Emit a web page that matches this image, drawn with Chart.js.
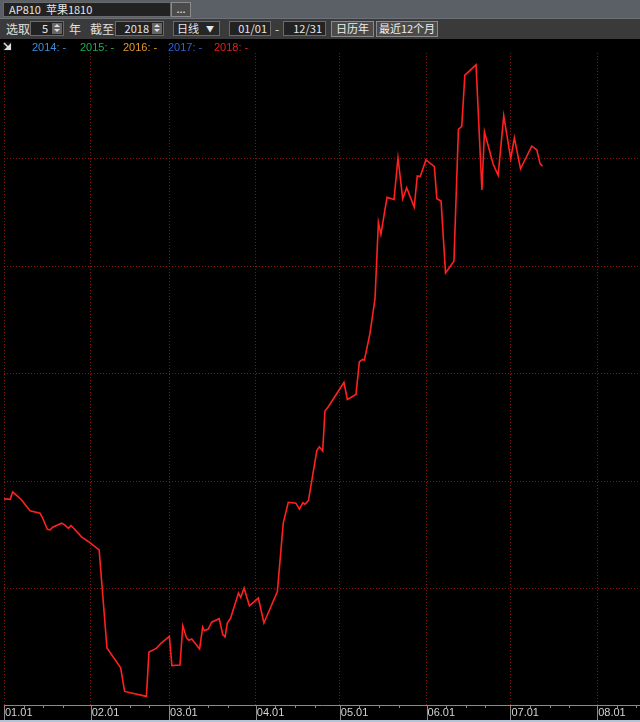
<!DOCTYPE html>
<html>
<head>
<meta charset="utf-8">
<script src="https://cdn.jsdelivr.net/npm/chart.js@4.4.1/dist/chart.umd.min.js"></script>
<style>
  html, body { margin:0; padding:0; }
  body { width:640px; height:722px; background:#000; position:relative; overflow:hidden;
         font-family:"Noto Sans CJK SC","Liberation Sans",sans-serif; }
  .abs { position:absolute; box-sizing:border-box; }
  #row1 { left:0; top:0; width:640px; height:19px; background:#5b6067; border-bottom:1px solid #6c7178; }
  #row2 { left:0; top:19px; width:640px; height:20px; background:#3a3a3a; }
  .field { background:#222; border:1px solid #6a6a6a; color:#e6e6e6; font-size:11px; line-height:13px; white-space:nowrap; }
  .btn { background:#4b4b4b; border:1px solid #8a8a8a; color:#eee; font-size:11px; line-height:13px; text-align:center; white-space:nowrap; }
  .lbl { color:#e0e0e0; font-size:12px; line-height:14px; white-space:nowrap; }
  .spin { position:absolute; right:1px; top:1px; width:10px; height:11px; background:#666; }
  .spin:before { content:""; position:absolute; left:2px; top:1px; border-left:3px solid transparent; border-right:3px solid transparent; border-bottom:3px solid #ddd; }
  .spin:after { content:""; position:absolute; left:2px; top:6px; border-left:3px solid transparent; border-right:3px solid transparent; border-top:3px solid #ddd; }
  #legend span { position:absolute; top:0; font-family:"Liberation Sans",Arial,sans-serif; font-size:11px; line-height:13px; white-space:nowrap; }
  #chartWrap { left:0; top:38px; width:640px; height:682px; }
  #bottomStrip { left:0; top:720px; width:640px; height:2px; background:#b4c4d6; }
  svg { display:block; }
</style>
</head>
<body>
<div id="row1" class="abs"></div>
<div class="abs field" style="left:3px;top:2px;width:168px;height:15px;padding-left:5px;">AP810&nbsp;&nbsp;苹果1810</div>
<div class="abs btn" style="left:171px;top:2px;width:20px;height:15px;line-height:11px;">...</div>

<div id="row2" class="abs"></div>
<div class="abs lbl" style="left:6px;top:22px;">选取</div>
<div class="abs field" style="left:30px;top:21px;width:34px;height:15px;text-align:right;padding-right:15px;">5<div class="spin"></div></div>
<div class="abs lbl" style="left:69px;top:22px;">年</div>
<div class="abs lbl" style="left:90px;top:22px;">截至</div>
<div class="abs field" style="left:115px;top:21px;width:49px;height:15px;text-align:right;padding-right:14px;">2018<div class="spin"></div></div>
<div class="abs field" style="left:173px;top:21px;width:47px;height:15px;padding-left:3px;background:#262626;">日线<span style="position:absolute;right:5px;top:0;font-size:8px;">▼</span></div>
<div class="abs field" style="left:229px;top:21px;width:42px;height:15px;text-align:right;padding-right:3px;">01/01</div>
<div class="abs lbl" style="left:275px;top:22px;">-</div>
<div class="abs field" style="left:283px;top:21px;width:43px;height:15px;text-align:right;padding-right:3px;">12/31</div>
<div class="abs btn" style="left:331px;top:21px;width:43px;height:16px;">日历年</div>
<div class="abs btn" style="left:376px;top:21px;width:62px;height:16px;">最近12个月</div>

<div id="chartWrap" class="abs"><canvas id="c" width="640" height="682"></canvas></div>
<div class="abs" style="left:3px;top:42px;width:9px;height:9px;">
  <svg width="9" height="9"><rect x="0" y="0" width="9" height="9" fill="#111"/><path d="M1 8 L8 8 L8 1 Z" fill="#ddd"/><path d="M1 1 L6 6" stroke="#ddd" stroke-width="1.5"/></svg>
</div>
<div id="legend" class="abs" style="left:0;top:41px;width:640px;height:13px;"></div>
<div id="bottomStrip" class="abs"></div>

<script>
// ---- data (day of year from Jan 1, price) ----
const legendYears = ['2014', '2015', '2016', '2017', '2018'];
const legendColors = ['#3a8fdc', '#1fae52', '#e39a2c', '#2f63d6', '#dd2222'];
const monthStartDays = [0, 31, 59, 90, 120, 151, 181, 212];
const monthLabels = ['01.01', '02.01', '03.01', '04.01', '05.01', '06.01', '07.01', '08.01'];
const gridPrices = [7000, 7500, 8000, 8500, 9000];

const days2018 = [
  0.0, 2.2, 3.1, 4.6, 6.3, 9.3, 12.9, 13.8, 15.5, 16.5,
  17.4, 20.6, 21.5, 23.0, 24.0, 27.8, 30.1, 34.0, 36.8, 41.7,
  43.1, 50.9, 51.8, 54.4, 56.2, 59.1, 60.0, 62.9, 63.9, 65.2,
  66.1, 67.1, 69.9, 71.0, 71.6, 73.0, 74.2, 76.9, 78.2, 79.0,
  79.8, 81.0, 83.8, 84.6, 85.8, 87.7, 90.9, 92.9, 97.7, 99.8,
  101.6, 104.3, 105.6, 106.8, 107.6, 108.8, 111.8, 112.7, 113.9, 114.7,
  115.9, 121.5, 122.7, 125.8, 127.0, 128.2, 128.8, 130.8, 132.6, 133.8,
  134.7, 136.0, 136.9, 139.4, 140.8, 142.5, 143.9, 146.6, 147.7, 148.7,
  149.3, 150.8, 153.8, 154.7, 156.2, 157.8, 160.8, 162.4, 163.6, 164.7,
  168.7, 170.8, 171.7, 174.8, 176.6, 178.6, 181.1, 182.4, 184.6, 188.6,
  190.4, 191.6, 192.5
];
const prices2018 = [
  7418, 7416, 7450, 7433, 7413, 7363, 7351, 7329, 7277, 7274,
  7286, 7305, 7298, 7282, 7294, 7240, 7220, 7181, 6725, 6633,
  6523, 6500, 6706, 6723, 6748, 6779, 6643, 6646, 6828, 6773,
  6761, 6767, 6720, 6822, 6805, 6813, 6845, 6861, 6787, 6776,
  6841, 6864, 6980, 6960, 7003, 6921, 6957, 6841, 6987, 7305,
  7402, 7398, 7370, 7400, 7393, 7410, 7642, 7660, 7640, 7826,
  7846, 7959, 7880, 7903, 8055, 8066, 8063, 8187, 8349, 8703,
  8647, 8751, 8819, 8809, 9003, 8813, 8864, 8774, 8919, 8916,
  8936, 8994, 8962, 8813, 8802, 8468, 8522, 9135, 9149, 9387,
  9435, 8853, 9124, 8974, 8921, 9198, 8999, 9096, 8952, 9057,
  9040, 8975, 8964
];

// legend (HTML text)
const legendX = [32, 80, 123, 168, 214];
const lg = document.getElementById('legend');
legendYears.forEach((yr, i) => {
  const s = document.createElement('span');
  s.textContent = yr + ': -';
  s.style.left = legendX[i] + 'px';
  s.style.color = legendColors[i];
  lg.appendChild(s);
});

const points = days2018.map((d, i) => ({ x: d, y: prices2018[i] }));

const gridRed = 'rgba(150,20,20,0.9)';

const axisDecor = {
  id: 'axisDecor',
  afterDraw(chart) {
    const { ctx, chartArea, scales: { x } } = chart;
    ctx.save();
    ctx.strokeStyle = '#8a8a8a';
    ctx.lineWidth = 1;
    const top = chartArea.bottom;
    monthStartDays.forEach(d => {
      const px = Math.round(x.getPixelForValue(d)) + 0.5;
      ctx.beginPath(); ctx.moveTo(px, top); ctx.lineTo(px, top + 15); ctx.stroke();
      [7, 14, 21].forEach(o => {
        const v = d + o;
        if (v > x.max) return;
        const mx = Math.round(x.getPixelForValue(v)) + 0.5;
        ctx.beginPath(); ctx.moveTo(mx, top); ctx.lineTo(mx, top + 3); ctx.stroke();
      });
    });
    ctx.restore();
  }
};

new Chart(document.getElementById('c'), {
  type: 'line',
  data: {
    datasets: [{
      label: '2018',
      data: points,
      borderColor: '#ff2020',
      borderWidth: 1.6,
      pointRadius: 0,
      tension: 0,
      fill: false
    }]
  },
  options: {
    responsive: false,
    animation: false,
    devicePixelRatio: 1,
    layout: { padding: { top: 15, left: 0, right: 0, bottom: 0 } },
    plugins: { legend: { display: false }, tooltip: { enabled: false } },
    scales: {
      x: {
        type: 'linear',
        position: 'bottom',
        min: 0,
        max: 227.3,
        afterFit: s => { s.height = 15; },
        afterBuildTicks: s => { s.ticks = monthStartDays.map(v => ({ value: v })); },
        ticks: {
          autoSkip: false,
          maxRotation: 0,
          align: 'start',
          labelOffset: 1,
          padding: 1,
          color: '#d2d2d2',
          font: { family: '"Liberation Sans", Arial, sans-serif', size: 11 },
          callback: (v, i) => monthLabels[i]
        },
        grid: {
          drawTicks: false,
          color: gridRed,
          lineWidth: 1
        },
        border: { display: true, color: '#8a8a8a', width: 1, dash: [1, 2] }
      },
      y: {
        type: 'linear',
        min: 6460,
        max: 9490,
        afterFit: s => { s.width = 4; },
        afterBuildTicks: s => { s.ticks = gridPrices.map(v => ({ value: v })); },
        ticks: { display: false },
        grid: { drawTicks: false, color: gridRed, lineWidth: 1 },
        border: { display: false, dash: [1, 2] }
      }
    }
  },
  plugins: [axisDecor]
});
</script>
</body>
</html>
